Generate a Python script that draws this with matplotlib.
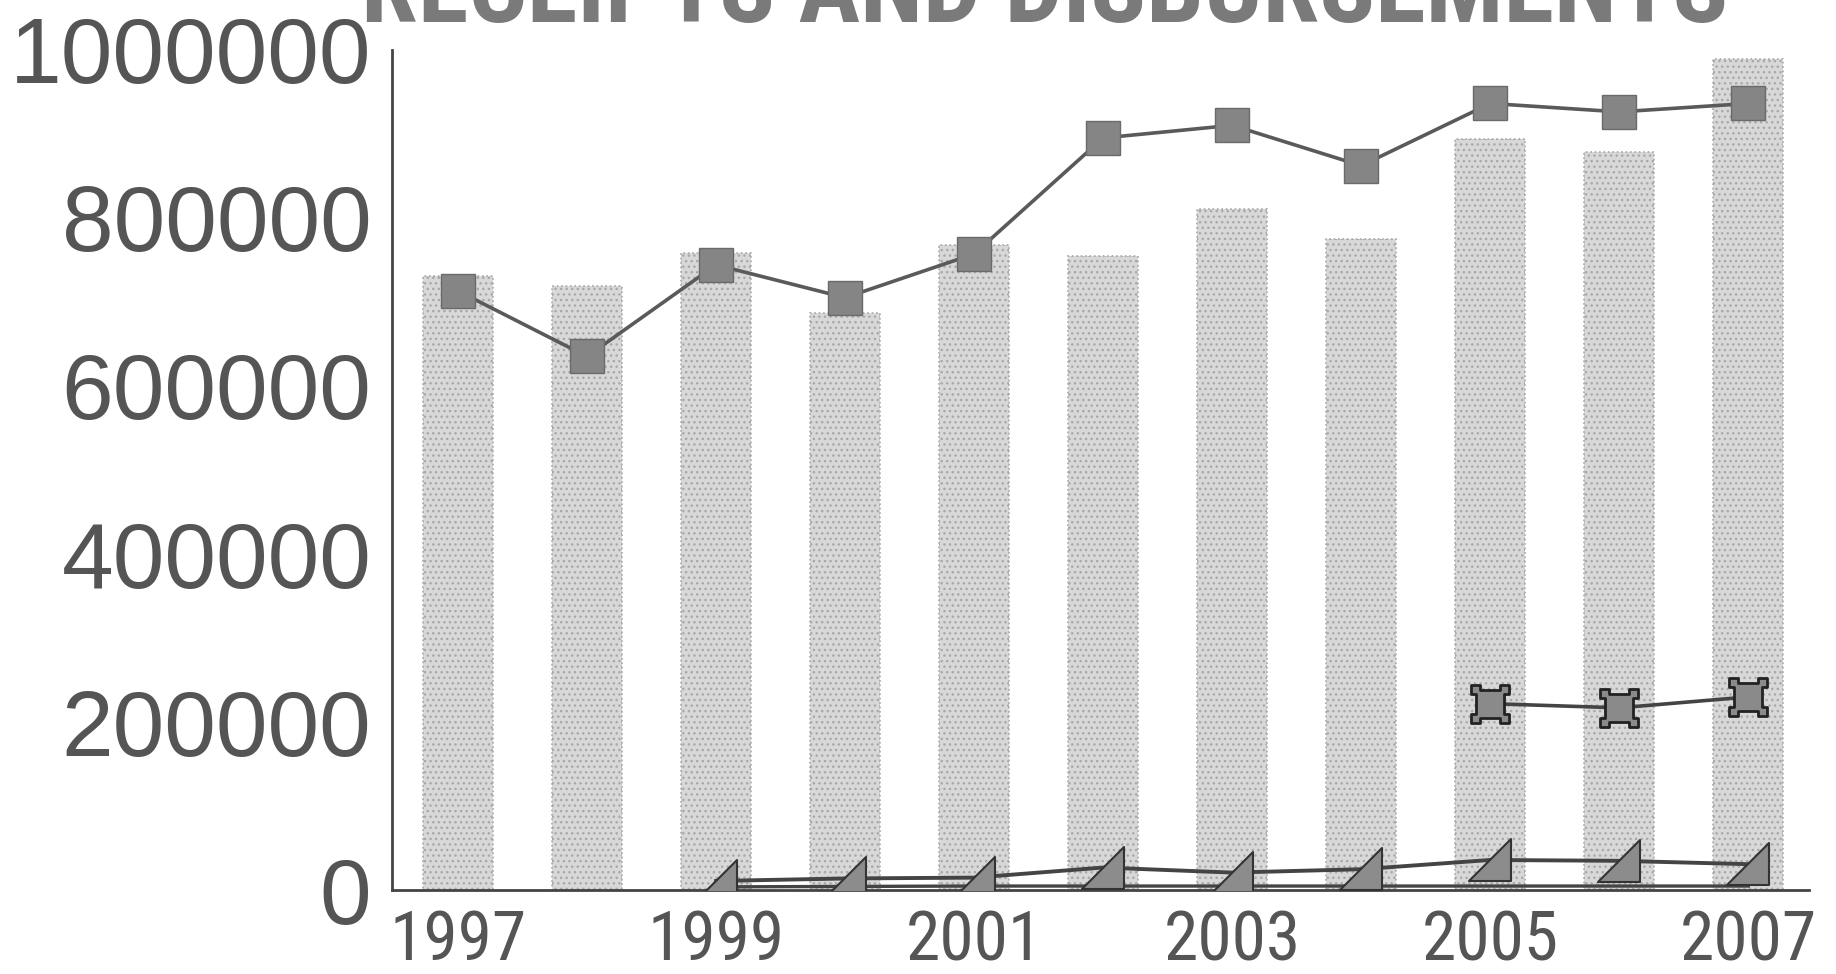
import numpy as np
import matplotlib.pyplot as plt
from matplotlib.path import Path

# values
years = [1997, 1998, 1999, 2000, 2001, 2002, 2003, 2004, 2005, 2006, 2007]
tick_years = [1997, 1999, 2001, 2003, 2005, 2007]

bar_values = [731000, 719000, 758000, 687000, 768000, 754000, 811000, 775000, 894000, 878000, 989000]
square_values = [713000, 635000, 744000, 705000, 757000, 895000, 910000, 862000, 936000, 926000, 936000]

late_years = [2005, 2006, 2007]
late_values = [222000, 217000, 230000]

tri_years = [1999, 2000, 2001, 2002, 2003, 2004, 2005, 2006, 2007]
tri_values = [11000, 14000, 15000, 27000, 21000, 25000, 36000, 35000, 31000]
low_values = [4000, 4500, 5000, 5000, 5000, 5000, 5000, 5000, 5000]

narrow = ['Liberation Sans Narrow', 'Arial Narrow', 'Roboto Condensed', 'Open Sans Condensed',
          'IBM Plex Sans Condensed', 'Liberation Sans']
regular = ['Liberation Sans', 'DejaVu Sans']

# custom markers: square with corner handles, and a right triangle
a, b = 0.7, 1.3
handle_verts = [(-a, -b), (-b, -b), (-b, -a), (-1, -a), (-1, a), (-b, a), (-b, b), (-a, b),
                (-a, 1), (a, 1), (a, b), (b, b), (b, a), (1, a), (1, -a), (b, -a), (b, -b),
                (a, -b), (a, -1), (-a, -1), (-a, -b)]
handle_marker = Path(handle_verts, [Path.MOVETO] + [Path.LINETO] * (len(handle_verts) - 2) + [Path.CLOSEPOLY])
tri_verts = [(-1, -1), (1, -1), (1, 1), (-1, -1)]
tri_marker = Path(tri_verts, [Path.MOVETO, Path.LINETO, Path.LINETO, Path.CLOSEPOLY])

plt.rcParams['hatch.color'] = '#9a9a9a'
plt.rcParams['hatch.linewidth'] = 1.0

fig = plt.figure(figsize=(18.36, 9.74), dpi=100)
ax = fig.add_axes([0.2136, 0.086, 0.7717, 0.863])

ax.bar(years, bar_values, width=0.544, color='#d8d8d8', hatch='...',
       edgecolor='#a8a8a8', linewidth=1.2, linestyle=':', zorder=1)

ax.plot(years, square_values, color='#5a5a5a', linewidth=2.6, marker='s',
        markersize=24, markerfacecolor='#858585', markeredgecolor='#6a6a6a',
        markeredgewidth=1, zorder=3)

ax.plot(late_years, late_values, color='#444444', linewidth=2.6, marker=handle_marker,
        markersize=27, markerfacecolor='#8a8a8a', markeredgecolor='#222222',
        markeredgewidth=2, zorder=3)

ax.plot(tri_years, low_values, color='#444444', linewidth=2.4, zorder=2)
ax.plot(tri_years, tri_values, color='#444444', linewidth=2.8, marker=tri_marker,
        markersize=30, markerfacecolor='#8c8c8c', markeredgecolor='#333333',
        markeredgewidth=1.5, zorder=3)

ax.set_xlim(1996.49, 2007.47)
ax.set_ylim(0, 1000000)
ax.set_xticks(tick_years)
ax.set_xticklabels([str(y) for y in tick_years], family=narrow, fontsize=50, color='#555555')
ax.set_yticks([0, 200000, 400000, 600000, 800000, 1000000])
ax.set_yticklabels(['0', '200000', '400000', '600000', '800000', '1000000'],
                   family=regular, fontsize=67, color='#555555')
ax.tick_params(axis='both', length=0)
ax.tick_params(axis='x', pad=13)
ax.tick_params(axis='y', pad=15)

for side in ['top', 'right']:
    ax.spines[side].set_visible(False)
for side in ['left', 'bottom']:
    ax.spines[side].set_color('#444444')
    ax.spines[side].set_linewidth(2)

fig.text(0.569, 1 - 22 / 974, 'RECEIPTS AND DISBURSEMENTS', family=narrow, fontweight='bold',
         fontsize=74, color='#7a7a7a', ha='center', va='baseline')

fig.savefig('out.png', dpi=100)
